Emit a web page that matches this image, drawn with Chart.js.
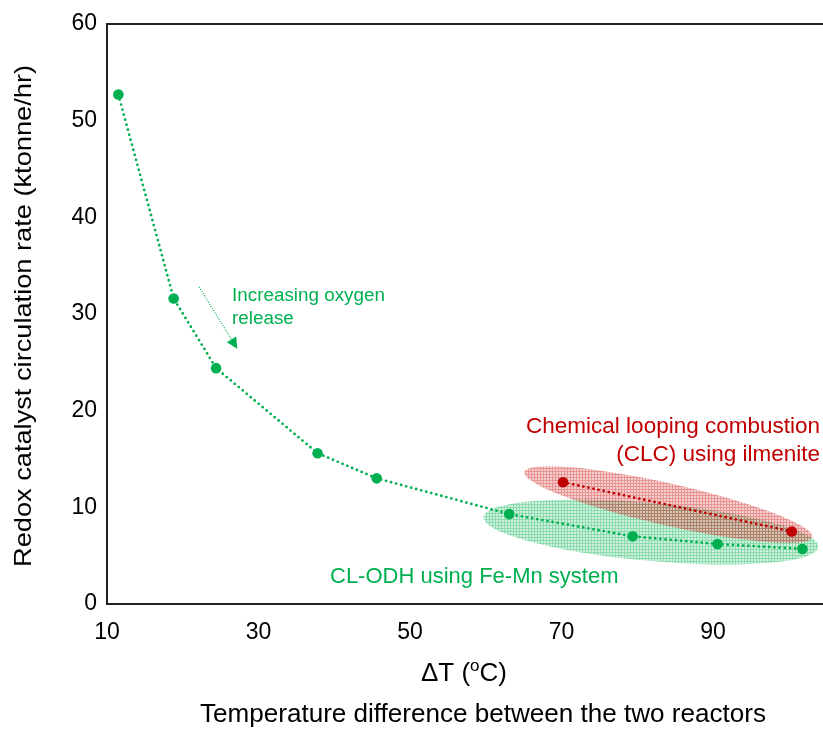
<!DOCTYPE html>
<html>
<head>
<meta charset="utf-8">
<script src="https://cdn.jsdelivr.net/npm/chart.js@4.4.1/dist/chart.umd.min.js"></script>
<style>
html,body{margin:0;padding:0;background:#fff;overflow:hidden;}
#wrap{position:relative;width:900px;height:729px;}
</style>
</head>
<body>
<div id="wrap"><canvas id="c" width="900" height="729"></canvas></div>
<script>
// ---- data ----
const feMnDeltaT = [11.5, 18.8, 24.4, 37.8, 45.6, 63.1, 79.4, 90.6, 101.8];
const feMnRate   = [52.7, 31.6, 24.4, 15.6, 13.0, 9.3, 7.0, 6.2, 5.7];
const clcDeltaT  = [70.2, 100.4];
const clcRate    = [12.6, 7.5];
const xTickValues = [10, 30, 50, 70, 90, 110];
const yTickValues = [0, 10, 20, 30, 40, 50, 60];
const yTitle = 'Redox catalyst circulation rate (ktonne/hr)';
const xTitleMain = 'ΔT (';
const xTitleSup = 'o';
const xTitleEnd = 'C)';
const xTitleSub = 'Temperature difference between the two reactors';
const noteArrow = ['Increasing oxygen', 'release'];
const noteClc = ['Chemical looping combustion', '(CLC) using ilmenite'];
const noteFeMn = 'CL-ODH using Fe-Mn system';
// ellipse tips in data coords (annotation regions)
const clcRegion = {x1: 65.1, y1: 13.65, x2: 103.1, y2: 6.93};
const feMnRegion = {x1: 59.7, y1: 9.0, x2: 103.9, y2: 5.9};
const arrowFrom = {x: 22.15, y: 32.8};
const arrowTo = {x: 27.2, y: 26.4};

const GREEN = '#00B050';
const RED = '#C00000';
const FONT = '"Liberation Sans", Arial, sans-serif';

function makePattern(ctx, r, g, b, a1, a2) {
  const p = document.createElement('canvas');
  p.width = 3; p.height = 3;
  const pc = p.getContext('2d');
  pc.fillStyle = `rgba(${r},${g},${b},${a1})`;
  pc.fillRect(0, 0, 3, 3);
  pc.fillStyle = `rgba(${r},${g},${b},${a2})`;
  pc.fillRect(0, 0, 3, 1);
  pc.fillRect(0, 1, 1, 2);
  return ctx.createPattern(p, 'repeat');
}

function fitText(ctx, text, x, y, size, targetW) {
  ctx.font = size + 'px ' + FONT;
  const w = ctx.measureText(text).width;
  const s = targetW / w;
  ctx.save();
  ctx.translate(x, y);
  ctx.scale(s, 1);
  ctx.fillText(text, 0, 0);
  ctx.restore();
}

const decor = {
  id: 'decor',
  beforeDatasetsDraw(chart) {
    const ctx = chart.ctx, xs = chart.scales.x, ys = chart.scales.y;
    function ell(reg, b, pat) {
      const px1 = xs.getPixelForValue(reg.x1), py1 = ys.getPixelForValue(reg.y1);
      const px2 = xs.getPixelForValue(reg.x2), py2 = ys.getPixelForValue(reg.y2);
      const cx = (px1 + px2) / 2, cy = (py1 + py2) / 2;
      const a = Math.hypot(px2 - px1, py2 - py1) / 2;
      const ang = Math.atan2(py2 - py1, px2 - px1);
      ctx.save();
      ctx.beginPath();
      ctx.ellipse(cx, cy, a, b, ang, 0, Math.PI * 2);
      ctx.fillStyle = pat;
      ctx.fill();
      ctx.restore();
    }
    ell(feMnRegion, 29, makePattern(ctx, 0, 176, 80, 0.18, 0.34));
    ell(clcRegion, 21, makePattern(ctx, 210, 40, 40, 0.22, 0.36));
  },
  afterDraw(chart) {
    const ctx = chart.ctx, xs = chart.scales.x, ys = chart.scales.y, ca = chart.chartArea;
    ctx.save();
    // top border
    ctx.strokeStyle = '#222';
    ctx.lineWidth = 2;
    ctx.beginPath();
    ctx.moveTo(ca.left - 1, ca.top);
    ctx.lineTo(ca.right, ca.top);
    ctx.stroke();

    // arrow
    const ax1 = xs.getPixelForValue(arrowFrom.x), ay1 = ys.getPixelForValue(arrowFrom.y);
    const ax2 = xs.getPixelForValue(arrowTo.x), ay2 = ys.getPixelForValue(arrowTo.y);
    const ang = Math.atan2(ay2 - ay1, ax2 - ax1);
    const hl = 11, hw = 5.5;
    const bx = ax2 - hl * Math.cos(ang), by = ay2 - hl * Math.sin(ang);
    ctx.strokeStyle = GREEN;
    ctx.lineWidth = 1.2;
    ctx.setLineDash([1, 1.5]);
    ctx.beginPath();
    ctx.moveTo(ax1, ay1); ctx.lineTo(bx, by); ctx.stroke();
    ctx.setLineDash([]);
    ctx.fillStyle = GREEN;
    ctx.beginPath();
    ctx.moveTo(ax2, ay2);
    ctx.lineTo(bx + hw * Math.sin(ang), by - hw * Math.cos(ang));
    ctx.lineTo(bx - hw * Math.sin(ang), by + hw * Math.cos(ang));
    ctx.closePath(); ctx.fill();

    // notes
    ctx.textBaseline = 'alphabetic';
    ctx.textAlign = 'left';
    ctx.fillStyle = GREEN;
    fitText(ctx, noteArrow[0], 232, 301, 18, 153);
    fitText(ctx, noteArrow[1], 232, 324, 18, 153 * ctx.measureText(noteArrow[1]).width / ctx.measureText(noteArrow[0]).width);

    ctx.fillStyle = RED;
    ctx.font = '22.5px ' + FONT;
    ctx.textAlign = 'right';
    ctx.fillText(noteClc[0], 820, 433);
    ctx.fillText(noteClc[1], 820, 461);

    ctx.fillStyle = GREEN;
    ctx.textAlign = 'left';
    ctx.font = '22px ' + FONT;
    ctx.fillText(noteFeMn, 330, 583);

    // y title
    ctx.fillStyle = '#000';
    ctx.save();
    ctx.translate(31, 316);
    ctx.rotate(-Math.PI / 2);
    ctx.textAlign = 'left';
    ctx.font = '24px ' + FONT;
    const yw = ctx.measureText(yTitle).width;
    fitText(ctx, yTitle, -251, 0, 24, 502);
    ctx.restore();

    // x title
    ctx.textAlign = 'left';
    ctx.font = '26px ' + FONT;
    const w1 = ctx.measureText(xTitleMain).width;
    const w3 = ctx.measureText(xTitleEnd).width;
    ctx.font = '17px ' + FONT;
    const w2 = ctx.measureText(xTitleSup).width;
    let sx = 464 - (w1 + w2 + w3) / 2;
    ctx.font = '26px ' + FONT;
    ctx.fillText(xTitleMain, sx, 681);
    ctx.font = '17px ' + FONT;
    ctx.fillText(xTitleSup, sx + w1, 671);
    ctx.font = '26px ' + FONT;
    ctx.fillText(xTitleEnd, sx + w1 + w2, 681);

    ctx.textAlign = 'left';
    fitText(ctx, xTitleSub, 200, 722, 26, 566);
    ctx.restore();
  }
};

new Chart(document.getElementById('c'), {
  type: 'scatter',
  data: {
    datasets: [
      {
        label: 'CL-ODH Fe-Mn',
        data: feMnDeltaT.map((x, i) => ({x, y: feMnRate[i]})),
        showLine: true,
        borderColor: GREEN,
        backgroundColor: GREEN,
        borderWidth: 2.8,
        borderDash: [0, 5.2],
        borderCapStyle: 'round',
        pointRadius: 5.3,
        pointBorderWidth: 0,
        pointBackgroundColor: GREEN,
        tension: 0
      },
      {
        label: 'CLC ilmenite',
        data: clcDeltaT.map((x, i) => ({x, y: clcRate[i]})),
        showLine: true,
        borderColor: RED,
        backgroundColor: RED,
        borderWidth: 2.8,
        borderDash: [0, 5.2],
        borderCapStyle: 'round',
        pointRadius: 5.3,
        pointBorderWidth: 0,
        pointBackgroundColor: RED,
        tension: 0
      }
    ]
  },
  options: {
    responsive: false,
    animation: false,
    layout: {padding: {left: 0, right: 35.5, top: 24, bottom: 0}},
    plugins: {legend: {display: false}, tooltip: {enabled: false}},
    scales: {
      x: {
        type: 'linear',
        min: 10, max: 110,
        afterBuildTicks(s) { s.ticks = xTickValues.map(v => ({value: v})); },
        afterFit(s) { s.height = 125; },
        grid: {display: false, drawTicks: false},
        border: {display: true, color: '#222', width: 2},
        ticks: {color: '#000', font: {family: FONT, size: 23}, padding: 15, maxRotation: 0}
      },
      y: {
        type: 'linear',
        min: 0, max: 60,
        afterBuildTicks(s) { s.ticks = yTickValues.map(v => ({value: v})); },
        afterFit(s) { s.width = 107; },
        grid: {display: false, drawTicks: false},
        border: {display: true, color: '#222', width: 2},
        ticks: {color: '#000', font: {family: FONT, size: 23}, padding: 10}
      }
    }
  },
  plugins: [decor]
});
</script>
</body>
</html>
